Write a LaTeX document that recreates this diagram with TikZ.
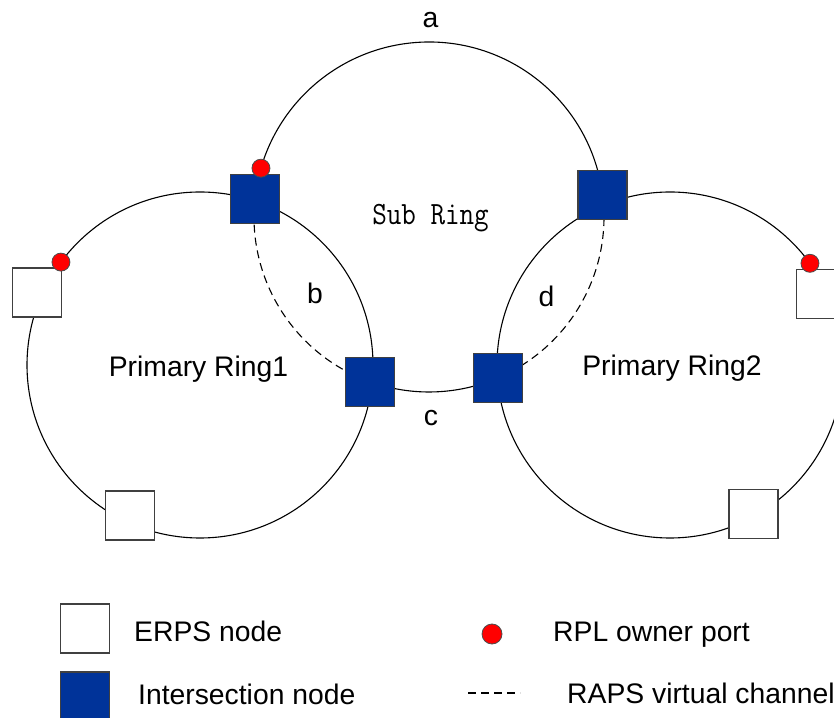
\documentclass[tikz,border=0pt]{standalone}
\usepackage{fontspec}
\setmainfont{Liberation Sans}
\usepackage{xcolor}
\definecolor{nodeblue}{RGB}{0,51,153}
\definecolor{portred}{RGB}{255,0,0}
\definecolor{edgegray}{RGB}{64,64,64}
\usepackage{tikz}
\usetikzlibrary{backgrounds}
\newcommand{\labelfont}{\fontsize{28.3}{34}\selectfont}
\newcommand{\subfont}{\fontsize{32.5}{38}\selectfont\ttfamily}
\newcommand{\widthnode}{49pt}
\newcommand{\ringradius}{173}
\newcommand{\subradius}{175}
\tikzset{
    common/.style={draw=edgegray, rectangle, line width=1.2pt, minimum size=\widthnode, inner sep=0pt},
    erps/.style={common, fill=white},
    inter/.style={common, fill=nodeblue},
    owner/.style={draw=black!70, fill=portred, circle, line width=0.8pt, minimum size=18pt, inner sep=0pt},
    ring/.style={line width=1.1pt},
    virtual/.style={line width=1.1pt, dash pattern=on 8pt off 5pt},
    txt/.style={font=\labelfont, inner sep=0pt}
}

\begin{document}
\begin{tikzpicture}[x=1pt,y=1pt]
    \useasboundingbox (0,0) rectangle (834,717);

    \path
        (200,352) coordinate (ring1-c)
        (670,352) coordinate (ring2-c)
        (429,500) coordinate (sub-c);

    \path
        (sub-c) ++(174:\subradius) node[inter] (sub-tl) {}
        (sub-c) ++(7.3:\subradius) node[inter] (sub-tr) {}
        (sub-c) ++(250.2:\subradius) node[inter] (sub-bl) {}
        (sub-c) ++(293.2:\subradius) node[inter] (sub-br) {};

    \path
        (ring1-c) ++(156:178) node[erps] (r1-west) {}
        (ring1-c) ++(245:166) node[erps] (r1-south) {}
        (ring2-c) ++(25.3:167) node[erps] (r2-east) {}
        (ring2-c) ++(299.2:171) node[erps] (r2-south) {};

    \path
        (sub-c) ++(163.8:\subradius) node[owner] (sub-port) {}
        (ring1-c) ++(143.5:\ringradius) node[owner] (r1-port) {}
        (ring2-c) ++(36:\ringradius) node[owner] (r2-port) {};

    \begin{scope}[on background layer]
        \draw[ring] (ring1-c) circle[radius=\ringradius];
        \draw[ring] (ring2-c) circle[radius=\ringradius];
        \draw[ring] (sub-tr.center) arc[start angle=7.3, end angle=174, radius=\subradius];
        \draw[virtual] (sub-tl.center) arc[start angle=174, end angle=250.2, radius=\subradius];
        \draw[ring] (sub-bl.center) arc[start angle=250.2, end angle=293.2, radius=\subradius];
        \draw[virtual] (sub-br.center) arc[start angle=293.2, end angle=367.3, radius=\subradius];
    \end{scope}

    \node[txt] (lbl-a) at (430.5,697) {a};
    \node[txt] (lbl-b) at (315,423.5) {b};
    \node[txt] (lbl-c) at (431,298.5) {c};
    \node[txt] (lbl-d) at (546.5,420.5) {d};
    \node[txt, anchor=base] (ring1-name) at (198.5,340) {Primary Ring1};
    \node[txt, anchor=base] (ring2-name) at (672,341.5) {Primary Ring2};
    \node[txt, font=\subfont, anchor=base, xscale=0.87, transform shape] (sub-name) at (430.5,492) {Sub Ring};

    \node[erps] (key-erps) at (85,88.5) {};
    \node[inter] (key-inter) at (85,20.5) {};
    \node[txt, anchor=base west] (key-erps-text) at (134,76) {ERPS node};
    \node[txt, anchor=base west] (key-inter-text) at (138,13) {Intersection node};
    \node[owner, minimum size=20pt] (key-owner) at (492,83) {};
    \node[txt, anchor=base west] (key-owner-text) at (553,76) {RPL owner port};
    \coordinate (key-dash-a) at (468,24);
    \coordinate (key-dash-b) at (520,24);
    \draw[virtual] (key-dash-a) -- (key-dash-b);
    \node[txt, anchor=base west] (key-virtual-text) at (567,14) {RAPS virtual channel};
\end{tikzpicture}
\end{document}
